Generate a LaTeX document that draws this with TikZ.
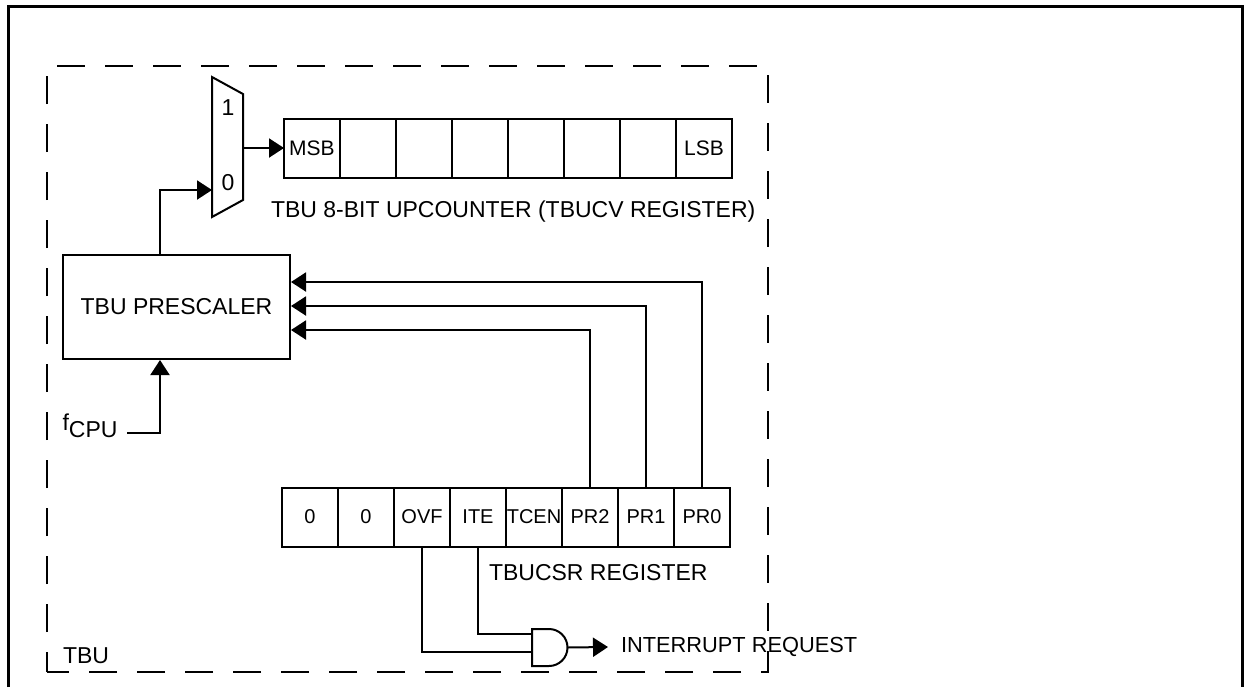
\documentclass[tikz,border=0pt]{standalone}
\usepackage{fontspec}
\setmainfont{Liberation Sans}
\usetikzlibrary{positioning,calc,arrows.meta}

\begin{document}
\begin{tikzpicture}[x=0.5pt, y=-0.5pt, line width=1pt,
    sig/.style={-{Triangle[length=7.5pt,width=9.5pt]}},
    cell/.style={draw,minimum width=28pt,minimum height=29.5pt,inner sep=0pt,outer sep=0pt,font=\fontsize{10}{12}\selectfont},
    lbl/.style={font=\fontsize{11.5}{14}\selectfont,inner sep=0pt}]
    \useasboundingbox (0,0) rectangle (1249,687);

    % outer frame (open at the bottom)
    \draw[line width=1.5pt] (8,687) -- (8,6) -- (1242,6) -- (1242,687);

    % TBU block
    \draw[dash pattern=on 14pt off 10pt, dash phase=4pt] (47,672) -- (47,66) -- (768,66) -- (768,672) -- cycle;
    \node[lbl, anchor=west] (tbu) at (62,656) {TBU};

    % multiplexer
    \draw (212,77) -- (243,94) -- (243,200) -- (212,217) -- cycle;
    \node[lbl] (one) at (228,108) {1};
    \node[lbl] (zero) at (228,183) {0};
    \coordinate (mux0) at (212,190);
    \coordinate (muxout) at (243,148);

    % counter register
    \foreach \lab [count=\i from 0] in {MSB,{},{},{},{},{},{},LSB}
        \node[cell, font=\fontsize{10.5}{12}\selectfont] (t\i) at ({312+56*\i},148) {\lab};
    \node[lbl, anchor=west] (tname) at (270,212) {TBU 8-BIT UPCOUNTER (TBUCV REGISTER)};

    % prescaler
    \node[draw, minimum width=113.5pt, minimum height=52pt, font=\fontsize{11.5}{13}\selectfont] (pre) at (176.5,307) {TBU PRESCALER};

    % control/status register
    \foreach \lab [count=\i from 0] in {0,0,OVF,ITE,TCEN,PR2,PR1,PR0}
        \node[cell] (r\i) at ({310+56*\i},517) {\lab};
    \node[lbl, anchor=west] (rname) at (488,573) {TBUCSR REGISTER};

    % clock path
    \node[lbl] (fcpu) at (90,426) {f\raisebox{-3.5pt}{CPU}};
    \coordinate (fin) at (127,433);
    \coordinate (clk) at (160,433);
    \draw[sig] (fin) -- (clk) -- (clk |- pre.south);
    \draw[sig] (clk |- pre.north) |- (mux0);
    \draw[sig] (muxout) -- (t0);

    % prescaler select bits
    \draw[sig] (r7.north) |- ([yshift=12.5pt]pre.east);
    \draw[sig] (r6.north) |- ([yshift=0.5pt]pre.east);
    \draw[sig] (r5.north) |- ([yshift=-11.5pt]pre.east);

    % interrupt gate
    \draw (532,629) -- (549,629) arc[start angle=90, end angle=-90, radius=9.25pt] -- (532,666) -- cycle;
    \coordinate (andA) at (532,634);
    \coordinate (andB) at (532,652);
    \coordinate (andY) at (567.5,647.5);
    \draw (r3.south) |- (andA);
    \draw (r2.south) |- (andB);
    \node[lbl, anchor=west, inner xsep=6pt, font=\fontsize{10.9}{13}\selectfont] (irq) at (608,647) {INTERRUPT REQUEST};
    \draw[sig] (andY) -- (irq.west);
\end{tikzpicture}
\end{document}
